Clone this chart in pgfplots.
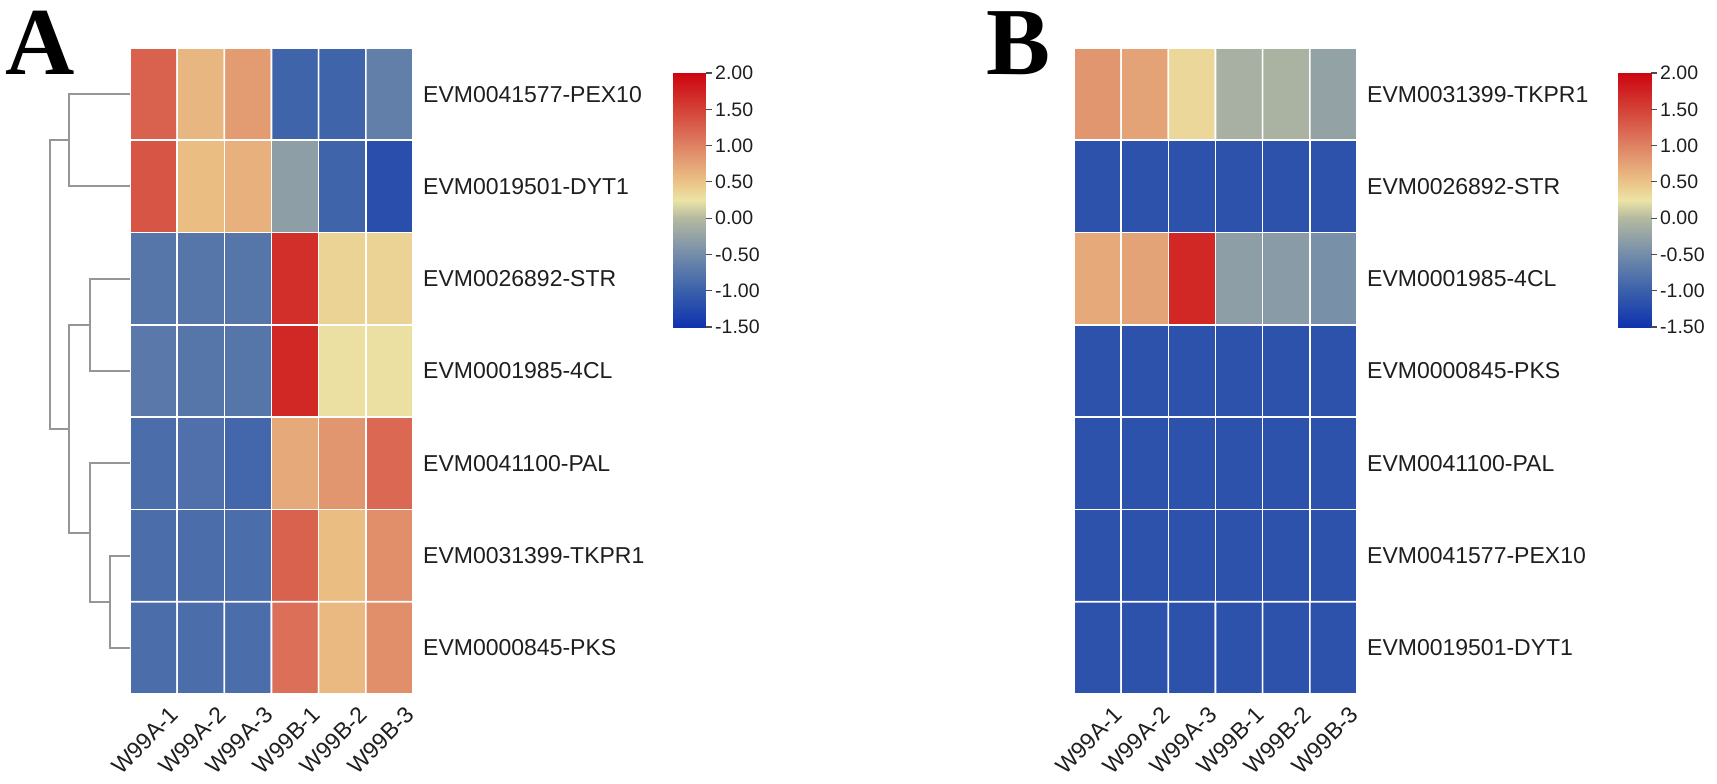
\documentclass[border=0pt]{standalone}
\usepackage{fontspec}
\setmainfont{Liberation Sans}
\newfontfamily\letterfont{Liberation Serif}
\usepackage{pgfplots}
\usepackage{pgfplotstable}
\pgfplotsset{compat=1.18}

% z-scores, rows top to bottom, columns W99A-1..W99B-3
\pgfplotstableread{
x y c
1 1 1.25
2 1 0.60
3 1 0.80
4 1 -0.95
5 1 -0.95
6 1 -0.65
1 2 1.35
2 2 0.55
3 2 0.65
4 2 -0.30
5 2 -0.95
6 2 -1.20
1 3 -0.75
2 3 -0.75
3 3 -0.75
4 3 1.65
5 3 0.38
6 3 0.38
1 4 -0.72
2 4 -0.75
3 4 -0.75
4 4 1.72
5 4 0.28
6 4 0.28
1 5 -0.85
2 5 -0.82
3 5 -0.92
4 5 0.70
5 5 0.85
6 5 1.20
1 6 -0.85
2 6 -0.85
3 6 -0.85
4 6 1.25
5 6 0.55
6 6 0.90
1 7 -0.85
2 7 -0.85
3 7 -0.85
4 7 1.15
5 7 0.58
6 7 0.90
}\dataA

\pgfplotstableread{
x y c
1 1 0.85
2 1 0.75
3 1 0.35
4 1 -0.10
5 1 -0.08
6 1 -0.25
1 2 -1.15
2 2 -1.15
3 2 -1.15
4 2 -1.15
5 2 -1.15
6 2 -1.15
1 3 0.70
2 3 0.75
3 3 1.72
4 3 -0.30
5 3 -0.33
6 3 -0.45
1 4 -1.15
2 4 -1.15
3 4 -1.15
4 4 -1.15
5 4 -1.15
6 4 -1.15
1 5 -1.15
2 5 -1.15
3 5 -1.15
4 5 -1.15
5 5 -1.15
6 5 -1.15
1 6 -1.15
2 6 -1.15
3 6 -1.15
4 6 -1.15
5 6 -1.15
6 6 -1.15
1 7 -1.15
2 7 -1.15
3 7 -1.15
4 7 -1.15
5 7 -1.15
6 7 -1.15
}\dataB

\definecolor{dendro}{RGB}{150,150,150}
\definecolor{txt}{RGB}{30,30,30}

\pgfplotsset{
  colormap={heat}{
    rgb255(0cm)=(15,50,175)
    rgb255(0.5cm)=(58,96,170)
    rgb255(1cm)=(115,140,170)
    rgb255(1.5cm)=(180,185,160)
    rgb255(1.75cm)=(235,228,165)
    rgb255(2cm)=(235,195,135)
    rgb255(2.5cm)=(222,130,100)
    rgb255(3cm)=(212,65,55)
    rgb255(3.5cm)=(205,5,15)
  },
  hm/.style={
    scale only axis, width=283pt, height=646pt,
    xmin=0.5, xmax=6.5, ymin=0.5, ymax=7.5, y dir=reverse,
    axis line style={draw=none},
    xtick={1,...,6}, ytick={1,...,7},
    xtick style={draw=none}, ytick style={draw=none},
    xticklabels={W99A-1,W99A-2,W99A-3,W99B-1,W99B-2,W99B-3},
    yticklabel pos=right,
    clip=false,
    point meta min=-1.5, point meta max=2,
    colormap name=heat,
    xticklabel style={font=\fontsize{23}{27}\selectfont, text=txt, inner sep=0pt,
      anchor=north east, xshift=15pt, yshift=-11pt, rotate=45},
    yticklabel style={font=\fontsize{23}{27}\selectfont, text=txt, inner sep=0pt,
      anchor=west, xshift=10pt},
  },
  % colour key drawn as its own small axis
  cbar/.style={
    scale only axis, width=33pt, height=254pt,
    xmin=0, xmax=1, ymin=-1.5, ymax=2, view={0}{90},
    point meta min=-1.5, point meta max=2, colormap name=heat,
    axis line style={draw=none}, xtick=\empty,
    ytick={-1.5,-1,-0.5,0,0.5,1,1.5,2},
    ytick pos=right, yticklabel pos=right, tick align=outside, major tick length=6pt,
    ytick style={draw=black!70, line width=1.2pt},
    axis on top,
    yticklabel style={font=\fontsize{19.5}{23}\selectfont, text=txt, inner sep=0pt, anchor=west, xshift=3pt,
      /pgf/number format/.cd, fixed, fixed zerofill, precision=2, assume math mode=true},
  },
}

\begin{document}
\begin{tikzpicture}[x=1pt,y=1pt]
\useasboundingbox (0,-784) rectangle (1717,0);

\node[anchor=base west, inner sep=0pt, font=\letterfont\bfseries\fontsize{96}{100}\selectfont] at (5,-75) {A};
\node[anchor=base west, inner sep=0pt, font=\letterfont\bfseries\fontsize{96}{100}\selectfont] at (986,-75) {B};

\begin{axis}[hm, at={(130pt,-694pt)}, anchor=south west,
  yticklabels={EVM0041577-PEX10,EVM0019501-DYT1,EVM0026892-STR,EVM0001985-4CL,EVM0041100-PAL,EVM0031399-TKPR1,EVM0000845-PKS}]
\addplot[matrix plot, mesh/cols=6, point meta=explicit, draw=white, line width=1.6pt] table[meta=c] {\dataA};
% dendrogram
\addplot[forget plot, no marks, dendro, line width=2pt] coordinates {(0.5,1) (-0.793,1) (-0.793,2) (0.5,2)};
\addplot[forget plot, no marks, dendro, line width=2pt] coordinates {(-0.793,1.5) (-1.196,1.5) (-1.196,4.625) (-0.793,4.625)};
\addplot[forget plot, no marks, dendro, line width=2pt] coordinates {(0.5,3) (-0.348,3) (-0.348,4) (0.5,4)};
\addplot[forget plot, no marks, dendro, line width=2pt] coordinates {(-0.348,3.5) (-0.793,3.5) (-0.793,5.75) (-0.348,5.75)};
\addplot[forget plot, no marks, dendro, line width=2pt] coordinates {(0.5,5) (-0.348,5) (-0.348,6.5) (0.076,6.5)};
\addplot[forget plot, no marks, dendro, line width=2pt] coordinates {(0.5,6) (0.076,6) (0.076,7) (0.5,7)};
\end{axis}

\begin{axis}[cbar, at={(673pt,-327pt)}, anchor=south west]
\addplot3[surf, shader=interp, point meta=y, mesh/cols=2] coordinates {(0,-1.5,0) (1,-1.5,0) (0,2,0) (1,2,0)};
\end{axis}

\begin{axis}[hm, at={(1074pt,-694pt)}, anchor=south west,
  yticklabels={EVM0031399-TKPR1,EVM0026892-STR,EVM0001985-4CL,EVM0000845-PKS,EVM0041100-PAL,EVM0041577-PEX10,EVM0019501-DYT1}]
\addplot[matrix plot, mesh/cols=6, point meta=explicit, draw=white, line width=1.6pt] table[meta=c] {\dataB};
\end{axis}

\begin{axis}[cbar, at={(1618pt,-327pt)}, anchor=south west]
\addplot3[surf, shader=interp, point meta=y, mesh/cols=2] coordinates {(0,-1.5,0) (1,-1.5,0) (0,2,0) (1,2,0)};
\end{axis}
\end{tikzpicture}
\end{document}
